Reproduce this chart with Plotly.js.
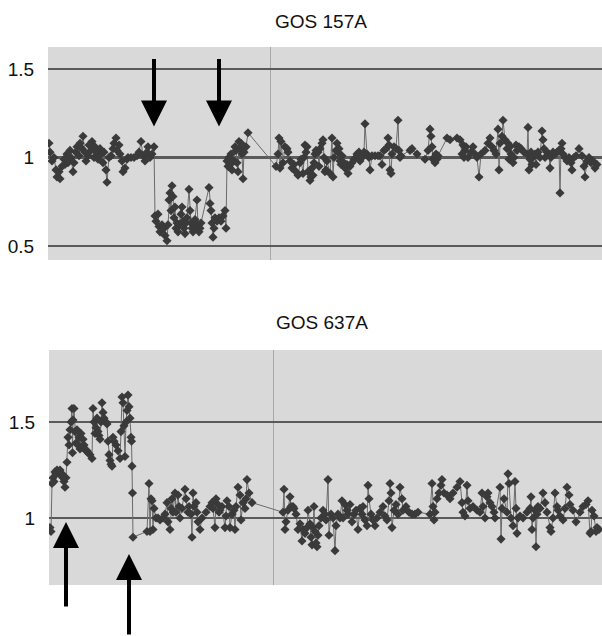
<!DOCTYPE html>
<html>
<head>
<meta charset="utf-8">
<script src="https://cdn.plot.ly/plotly-3.0.1.min.js"></script>
<style>
  html, body { margin: 0; padding: 0; background: #ffffff; }
  #chart { width: 602px; height: 636px; }
</style>
</head>
<body>
<div id="chart"></div>
<script>
// ---- Data (positions along the chromosome, arbitrary units; copy-number ratio) ----
const titles = ["GOS 157A", "GOS 637A"];

const pos157 = [49,50,52,54,56,57,59,60,62,64,65,67,68,70,71,73,74,76,77,79,80,82,83,85,86,88,89,91,92,94,95,97,98,100,101,103,104,106,107,109,111,113,114,116,117,119,120,122,123,125,127,128,131,134,137,139,141,143,145,147,148,150,152,154,
155,156,158,159,160,162,164,165,167,168,169,170,171,172,173,174,175,176,177,178,179,181,182,183,184,185,186,187,189,190,191,192,193,194,195,197,198,199,200,201,209,210,211,212,213,214,215,217,219,221,223,225,226,
227,228,229,230,231,232,234,235,236,237,238,239,240,241,242,243,244,246,248,
276,278,279,280,281,283,285,287,288,290,292,294,296,298,300,301,303,304,305,306,307,308,310,311,312,313,314,315,316,318,319,320,322,323,324,325,326,327,330,332,333,334,336,337,338,339,340,341,342,344,345,347,348,350,352,354,356,357,359,360,362,364,365,367,369,370,372,375,378,380,382,384,386,388,389,390,391,392,394,396,398,399,400,401,410,412,417,425,428,430,431,432,433,434,435,436,437,438,447,450,457,460,462,463,464,465,466,468,471,473,475,477,479,481,485,488,490,492,494,496,498,499,500,502,503,505,507,508,509,510,511,513,514,516,517,519,521,524,527,528,529,530,531,532,533,535,536,538,540,542,543,544,545,547,549,550,551,553,555,557,559,560,561,562,563,565,567,569,571,572,574,576,579,582,584,585,587,589,591,593,595,597];

const ratio157 = [1.08,1.03,0.98,1.0,0.93,0.89,0.92,0.88,0.95,0.99,0.96,1.02,0.97,1.04,1.0,0.92,0.97,1.03,1.06,1.01,1.08,1.05,1.12,1.03,0.98,1.01,1.07,1.04,1.09,1.0,1.06,1.03,0.99,1.05,1.02,0.97,1.03,0.93,0.86,1.0,1.01,1.05,1.08,1.11,1.04,1.07,1.02,0.98,0.92,0.94,0.99,1.0,1.0,1.0,1.01,1.03,1.09,1.01,0.98,1.03,1.06,1.0,1.02,1.06,
0.67,0.64,0.68,0.61,0.58,0.62,0.6,0.56,0.53,0.62,0.76,0.8,0.7,0.84,0.78,0.66,0.72,0.6,0.63,0.58,0.62,0.68,0.72,0.64,0.6,0.57,0.63,0.66,0.82,0.7,0.63,0.6,0.58,0.6,0.65,0.76,0.62,0.58,0.6,0.63,0.83,0.74,0.7,0.63,0.55,0.6,0.66,0.64,0.66,0.64,0.67,0.7,0.6,
0.98,0.95,1.0,0.96,1.02,0.93,0.98,1.06,1.04,0.97,0.92,1.09,1.05,1.08,1.02,0.88,1.03,1.06,1.14,
0.95,1.02,1.11,0.94,1.09,0.97,1.06,1.05,1.03,0.98,0.94,0.96,0.92,0.9,0.97,0.99,0.91,1.0,1.07,1.03,1.06,0.92,0.87,0.89,0.94,0.9,0.97,1.02,1.04,1.03,0.95,1.05,1.08,1.1,1.0,0.92,0.93,0.98,0.91,1.11,0.89,1.0,1.04,1.08,1.03,1.05,0.98,0.96,1.01,0.97,0.94,0.96,0.91,0.95,0.97,0.99,1.0,1.02,1.03,0.98,1.0,1.03,1.19,1.02,1.0,0.93,1.01,1.01,1.01,1.01,0.96,1.04,1.05,1.11,1.07,0.93,0.91,1.02,1.06,1.05,1.21,1.04,1.0,1.01,1.04,1.05,1.02,0.99,1.04,1.16,1.12,1.06,0.99,1.0,0.97,1.02,0.99,1.01,1.11,1.1,1.11,1.1,1.02,1.07,1.0,1.04,1.06,1.0,1.03,1.06,1.02,1.0,0.89,1.02,1.04,1.08,1.11,1.06,1.04,1.02,1.16,0.93,1.08,1.12,1.21,1.1,1.05,1.08,0.99,1.06,1.02,0.97,1.0,1.07,1.04,1.06,1.05,1.03,1.02,1.17,0.93,0.99,1.03,0.96,1.0,1.02,0.96,1.03,1.0,1.15,1.1,1.05,1.0,1.03,1.02,0.94,1.0,1.03,1.02,1.03,1.04,0.8,1.05,1.08,1.02,1.0,0.98,1.0,0.97,0.93,1.0,1.01,1.05,1.01,0.95,0.89,0.98,1.0,0.97,0.98,0.94,0.96];

const pos637 = [50,51,52,53,54,55,56,57,59,60,61,62,63,64,65,66,67,68,69,70,71,72,72.5,73,74,75,76,77,78,79,80,81,82,83,84,85,86,87,88,90,92,93,94,95,96,97,98,99,100,101,102,103,104,106,107,108,109,110,111,112,113,114,116,118,120,121,122,123,124,125,126,127,128,129,130,131,131.5,132,132.5,
133,147,149,150,151,152,153,154,156,158,160,163,165,167,168,170,171,172,173,175,176,178,179,180,182,185,186,188,189,191,192,193,194,196,197,198,200,202,206,210,212,213,215,216,218,219,220,222,225,226,227,229,230,232,234,235,236,238,240,241,243,245,246,247,249,252,
283,284,285,286,288,290,291,293,294,296,298,300,302,303,305,307,308,310,311,312,313,314,315,316,317,318,319,321,323,325,326,328,329,331,333,335,336,338,340,342,343,345,347,348,350,352,354,356,358,360,362,363,365,367,368,369,371,373,375,377,380,383,385,387,389,390,391,392,394,396,398,400,402,403,406,409,412,415,418,430,432,433,434,435,437,439,441,442,444,447,450,453,457,460,462,463,465,467,468,470,473,477,480,482,483,485,487,488,490,492,494,495,500,501,502,504,507,508,509,511,513,515,516,517,518,520,523,527,530,531,532,533,535,536,537,538,540,543,545,547,550,551,553,555,557,558,560,563,565,567,569,570,573,576,580,583,586,588,590,591,592,594,596,597,599];

const ratio637 = [0.95,0.93,1.18,1.21,1.19,1.24,1.23,1.25,1.24,1.25,1.22,1.23,1.21,1.19,1.16,1.21,1.29,1.42,1.38,1.46,1.5,1.57,1.34,1.51,1.57,1.45,1.39,1.46,1.38,1.42,1.36,1.44,1.37,1.41,1.38,1.36,1.35,1.35,1.34,1.33,1.31,1.57,1.5,1.44,1.47,1.52,1.45,1.43,1.41,1.5,1.6,1.55,1.52,1.5,1.49,1.4,1.33,1.3,1.28,1.27,1.42,1.4,1.38,1.35,1.31,1.45,1.63,1.6,1.48,1.32,1.5,1.56,1.64,1.58,1.52,1.42,1.4,1.27,1.13,
0.9,0.93,1.18,0.93,1.1,1.09,0.94,1.05,1.0,1.0,0.99,1.0,1.02,1.08,0.98,0.94,1.05,1.1,1.03,1.13,1.03,1.12,1.06,1.0,1.05,1.15,1.1,1.03,1.06,1.02,0.9,1.13,1.06,1.08,1.03,0.98,0.94,1.0,1.03,1.06,1.08,1.05,0.95,1.1,1.07,1.03,1.04,1.06,0.95,1.01,1.09,1.06,0.95,1.02,1.04,0.94,1.06,1.16,1.12,0.99,1.08,1.05,1.1,1.2,1.13,1.08,
1.03,1.15,0.94,0.98,1.04,1.11,1.06,1.06,1.05,1.02,0.94,0.97,0.88,0.94,0.92,0.95,1.04,0.97,0.9,0.86,0.95,1.06,0.93,0.87,0.85,0.91,0.96,1.0,1.04,1.02,0.99,1.2,0.91,1.02,1.0,0.83,0.96,1.02,1.0,1.09,1.0,1.07,1.04,1.02,1.07,0.98,1.02,1.04,0.94,1.05,1.02,1.06,0.99,0.96,1.17,1.1,1.02,0.99,0.96,1.0,1.03,1.06,1.01,0.99,1.09,1.18,1.13,0.95,1.04,1.07,1.02,1.16,1.1,1.04,1.06,1.03,1.02,1.02,1.03,1.02,1.18,1.06,0.99,1.03,1.1,1.13,1.17,1.2,1.13,1.12,1.1,1.13,1.16,1.19,1.08,1.03,1.01,1.17,1.09,1.05,1.06,1.04,1.03,1.13,1.06,1.0,1.11,1.13,1.08,1.06,1.03,1.0,1.16,0.89,1.05,1.1,1.03,1.23,1.18,1.0,0.96,1.19,1.05,0.92,1.0,1.01,1.0,1.03,1.05,1.11,0.94,1.0,1.04,0.85,1.02,1.06,1.05,1.13,1.08,1.03,0.95,0.93,1.0,1.13,1.06,1.04,1.01,0.99,1.05,1.16,1.12,1.07,1.04,0.98,1.03,1.06,1.07,1.09,0.92,0.93,1.04,1.01,0.93,0.95,0.94];

// reference levels and centromere positions
const tickVals157 = [0.5, 1, 1.5];
const tickText157 = ["0.5", "1", "1.5"];
const tickVals637 = [1, 1.5];
const tickText637 = ["1", "1.5"];
const centromere157 = [270];
const centromere637 = [273];

// arrows: [position, ratio at tip]
const arrows157 = [[154, 1.175], [219, 1.175]];
const arrows637 = [[66, 0.979], [129, 0.8125]];

// ---- Chart ----
const W = 602, H = 636;
const FONT = "Liberation Sans, Arial, Helvetica, sans-serif";
const markerStyle = { symbol: "diamond", size: 7, color: "#3a3a3a" };
const lineStyle = { color: "#6a6a6a", width: 1 };

const traces = [
  { x: pos157, y: ratio157, xaxis: "x", yaxis: "y", mode: "lines+markers",
    marker: markerStyle, line: lineStyle, hoverinfo: "skip" },
  { x: pos637, y: ratio637, xaxis: "x2", yaxis: "y2", mode: "lines+markers",
    marker: markerStyle, line: lineStyle, hoverinfo: "skip" }
];

function yax(domain, range, vals, text) {
  return {
    domain: domain, range: range, tickvals: vals, ticktext: text,
    showgrid: true, gridcolor: "#5a5a5a", gridwidth: 2.5, zeroline: false,
    showline: false, ticks: "outside", ticklen: 9, tickcolor: "rgba(0,0,0,0)",
    tickfont: { family: FONT, size: 19, color: "#111" },
    fixedrange: true
  };
}
function xax(domain, range, cen) {
  return {
    domain: domain, range: range, tickvals: cen, showticklabels: false,
    showgrid: true, gridcolor: "#a9a9a9", gridwidth: 1, zeroline: false,
    showline: false, ticks: "", fixedrange: true
  };
}

const annotations = [
  { text: titles[0], xref: "paper", yref: "paper", x: 321 / W, y: 1 - 22 / H,
    xanchor: "center", yanchor: "middle", showarrow: false,
    font: { family: FONT, size: 19, color: "#111" } },
  { text: titles[1], xref: "paper", yref: "paper", x: 322 / W, y: 1 - 322 / H,
    xanchor: "center", yanchor: "middle", showarrow: false,
    font: { family: FONT, size: 19, color: "#111" } }
];
const arrowCommon = { text: "", showarrow: true, arrowhead: 2, arrowsize: 1.3,
  arrowwidth: 4, arrowcolor: "#000", standoff: 0, startstandoff: 0, axref: "pixel", ayref: "pixel", ax: 0 };
arrows157.forEach(a => annotations.push(Object.assign({}, arrowCommon,
  { xref: "x", yref: "y", x: a[0], y: a[1], ay: -69 })));
arrows637.forEach(a => annotations.push(Object.assign({}, arrowCommon,
  { xref: "x2", yref: "y2", x: a[0], y: a[1], ay: 86 })));

const layout = {
  width: W, height: H,
  margin: { l: 0, r: 0, t: 0, b: 0 },
  paper_bgcolor: "#ffffff", plot_bgcolor: "#d9d9d9",
  showlegend: false,
  xaxis: xax([48 / W, 1], [48, 602], centromere157),
  yaxis: yax([1 - 260 / H, 1 - 47 / H], [0.421, 1.624], tickVals157, tickText157),
  xaxis2: xax([49 / W, 1], [49, 602], centromere637),
  yaxis2: yax([1 - 585 / H, 1 - 350 / H], [0.651, 1.875], tickVals637, tickText637),
  annotations: annotations
};
layout.yaxis2.anchor = "x2";
layout.xaxis2.anchor = "y2";

Plotly.newPlot("chart", traces, layout, { staticPlot: true, displayModeBar: false });
</script>
</body>
</html>
